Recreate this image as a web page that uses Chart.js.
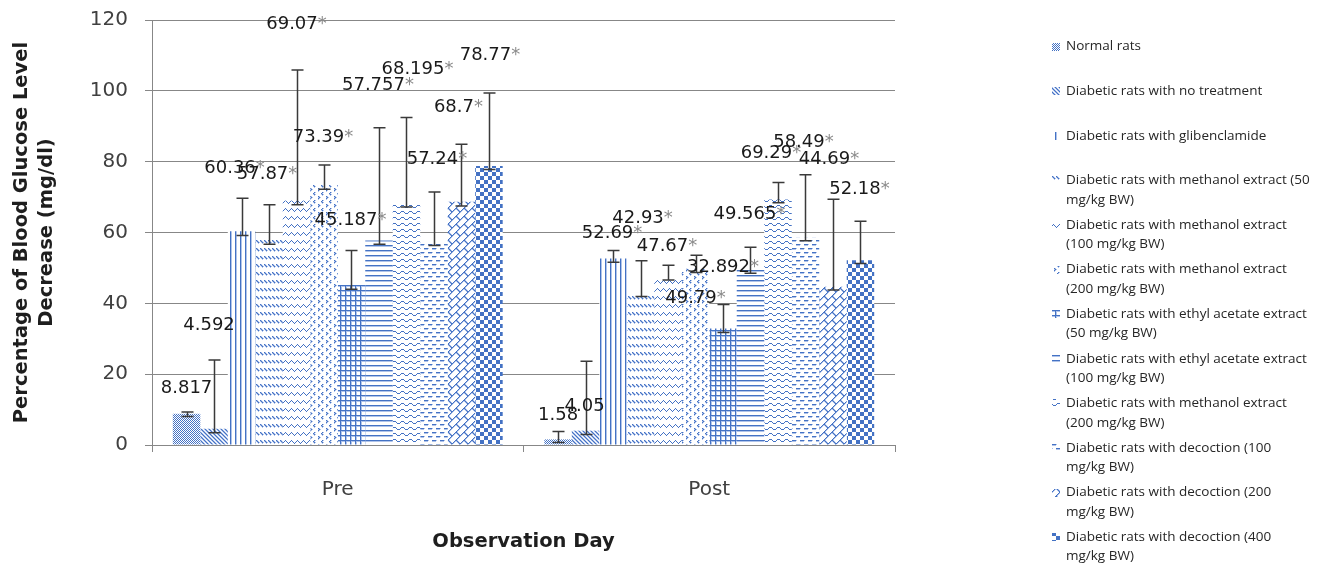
<!DOCTYPE html>
<html>
<head>
<meta charset="utf-8">
<title>Percentage of Blood Glucose Level Decrease</title>
<script src="https://cdn.jsdelivr.net/npm/chart.js@4.4.1/dist/chart.umd.min.js"></script>
<style>
  html, body { margin: 0; padding: 0; background: #ffffff; }
  #wrap { width: 1337px; height: 563px; position: relative; }
</style>
</head>
<body>
<div id="wrap"><canvas id="chart" width="1337" height="563"></canvas></div>
<script>
// ---- data ----
const categories = ['Pre', 'Post'];

const seriesNames = [
  ['Normal rats'],
  ['Diabetic rats with no treatment'],
  ['Diabetic rats with glibenclamide'],
  ['Diabetic rats with methanol extract (50', 'mg/kg BW)'],
  ['Diabetic rats with methanol extract', '(100 mg/kg BW)'],
  ['Diabetic rats with methanol extract', '(200 mg/kg BW)'],
  ['Diabetic rats with ethyl acetate extract', '(50 mg/kg BW)'],
  ['Diabetic rats with ethyl acetate extract', '(100 mg/kg BW)'],
  ['Diabetic rats with methanol extract', '(200 mg/kg BW)'],
  ['Diabetic rats with decoction (100', 'mg/kg BW)'],
  ['Diabetic rats with decoction (200', 'mg/kg BW)'],
  ['Diabetic rats with decoction (400', 'mg/kg BW)']
];

const preValues  = [8.817, 4.592, 60.36, 57.87, 69.07, 73.39, 45.187, 57.757, 68.195, 57.24, 68.7, 78.77];
const postValues = [1.58, 4.05, 52.69, 42.93, 47.67, 49.79, 32.892, 49.565, 69.29, 58.49, 44.69, 52.18];

// error bar extents above / below each mean
const preErrPlus   = [0.5, 19.4, 9.3, 10.0, 36.8, 5.7, 9.7, 31.8, 24.3, 14.2, 16.2, 20.6];
const preErrMinus  = [0.8, 1.1, 1.2, 1.2, 1.2, 1.2, 1.2, 1.1, 1.0, 0.9, 1.2, 1.0];
const postErrPlus  = [2.2, 19.6, 2.2, 9.1, 3.1, 3.8, 6.8, 6.3, 4.8, 17.8, 24.7, 11.0];
const postErrMinus = [0.9, 1.05, 1.1, 1.0, 1.1, 1.1, 1.1, 1.1, 0.9, 0.8, 0.9, 0.9];

// significance marks (*) on the value labels
const preSignificant  = [false, false, true, true, true, true, true, true, true, true, true, true];
const postSignificant = [false, false, true, true, true, true, true, true, true, true, true, true];

const yTicks = [0, 20, 40, 60, 80, 100, 120];

// ---- label placement (pixels: horizontal shift, lift above bar top) ----
const preLabelPlacement = [[0,25],[-5,103],[-7,63],[-2,66],[0,176],[-1,48],[-1,65],[-1,155],[11,134],[3,83],[-3,94],[1,111]];
const postLabelPlacement = [[0,24],[-1,24],[-1,25],[2,75],[-1,30],[0,-30],[0,61],[-1,55],[-7,46],[-2,96],[-4,127],[-1,71]];

// ---- fill patterns ----
const BLUE = [68, 114, 196];
const HALO = [176, 196, 234];
const ctx = document.getElementById('chart').getContext('2d');

// Builds a repeating tile from a list of "ink" pixels; optionally
// widens every stroke with a pale edge on its right/bottom side.
function tile(w, h, draw, halo = true) {
  const ink = new Uint8Array(w * h);
  draw((x, y, ww = 1, hh = 1) => {
    for (let j = 0; j < hh; j++) for (let i = 0; i < ww; i++) ink[((y + j) % h) * w + ((x + i) % w)] = 1;
  });
  const c = document.createElement('canvas');
  c.width = w; c.height = h;
  const g = c.getContext('2d');
  const img = g.createImageData(w, h);
  for (let y = 0; y < h; y++) for (let x = 0; x < w; x++) {
    const k = y * w + x;
    let col = [255, 255, 255];
    if (ink[k]) col = BLUE;
    else if (halo && (ink[y * w + ((x - 1 + w) % w)] || ink[((y - 1 + h) % h) * w + x])) col = HALO;
    img.data.set([col[0], col[1], col[2], 255], k * 4);
  }
  g.putImageData(img, 0, 0);
  return ctx.createPattern(c, 'repeat');
}

const patterns = [
  // fine 50% dots
  tile(2, 2, p => { p(0, 0); p(1, 1); }, false),
  // downward diagonal
  tile(4, 4, p => { for (let i = 0; i < 4; i++) p(i, i); }),
  // vertical lines
  tile(5, 1, p => { p(0, 0); }),
  // dashed downward diagonal
  tile(4, 8, p => { p(0, 0); p(1, 1); p(2, 2); }),
  // zigzag
  tile(6, 8, p => { p(0, 3); p(1, 2); p(2, 1); p(3, 0); p(4, 1); p(5, 2); }, false),
  // dotted chevrons
  tile(8, 8, p => { p(2, 0); p(1, 1); p(2, 2); p(6, 4); p(7, 5); p(6, 6); }),
  // small grid
  tile(5, 5, p => { p(0, 0, 5, 1); p(0, 0, 1, 5); }),
  // horizontal lines
  tile(1, 5, p => { p(0, 0); }),
  // wave
  tile(8, 6, p => { const ys = [2, 1, 1, 1, 2, 3, 3, 3]; ys.forEach((y, x) => p(x, y)); }, false),
  // dashed horizontal
  tile(8, 8, p => { p(0, 0, 4, 1); p(4, 4, 4, 1); }),
  // diagonal brick
  tile(8, 8, p => { for (let i = 0; i < 8; i++) p(i, 7 - i); for (let i = 0; i < 4; i++) p(i, i); }),
  // large checkerboard
  tile(8, 8, p => { p(0, 0, 4, 4); p(4, 4, 4, 4); }, false)
];

// ---- datasets ----
const datasets = seriesNames.map((name, i) => ({
  label: name.join(' '),
  data: [preValues[i], postValues[i]],
  errPlus: [preErrPlus[i], postErrPlus[i]],
  errMinus: [preErrMinus[i], postErrMinus[i]],
  significant: [preSignificant[i], postSignificant[i]],
  placement: [preLabelPlacement[i], postLabelPlacement[i]],
  backgroundColor: patterns[i],
  borderWidth: 0
}));

// ---- plugins ----
const errorBars = {
  id: 'errorBars',
  afterDatasetsDraw(chart) {
    const c = chart.ctx, y = chart.scales.y;
    c.save();
    c.strokeStyle = '#3a3a3a';
    c.lineWidth = 1.5;
    chart.data.datasets.forEach((ds, i) => {
      chart.getDatasetMeta(i).data.forEach((bar, j) => {
        const v = ds.data[j];
        const top = y.getPixelForValue(v + ds.errPlus[j]);
        const bot = y.getPixelForValue(v - ds.errMinus[j]);
        const x = Math.round(bar.x) + 0.5, half = 6;
        c.beginPath();
        c.moveTo(x, top); c.lineTo(x, bot);
        c.moveTo(x - half, top); c.lineTo(x + half, top);
        c.moveTo(x - half, bot); c.lineTo(x + half, bot);
        c.stroke();
      });
    });
    c.restore();
  }
};

const valueLabels = {
  id: 'valueLabels',
  afterDatasetsDraw(chart) {
    const c = chart.ctx, y = chart.scales.y;
    c.save();
    c.font = '18px "DejaVu Sans", sans-serif';
    c.textBaseline = 'middle';
    c.textAlign = 'left';
    chart.data.datasets.forEach((ds, i) => {
      chart.getDatasetMeta(i).data.forEach((bar, j) => {
        const v = ds.data[j];
        const num = String(v);
        const star = ds.significant[j] ? '*' : '';
        const wNum = c.measureText(num).width;
        const wStar = star ? c.measureText(star).width : 0;
        const [dx, lift] = ds.placement[j];
        const cx = bar.x + dx;
        const cy = y.getPixelForValue(v) - lift;
        const x0 = cx - (wNum + wStar) / 2;
        c.fillStyle = '#1a1a1a';
        c.fillText(num, x0, cy);
        if (star) {
          c.fillStyle = '#8a8a8a';
          c.fillText(star, x0 + wNum, cy);
        }
      });
    });
    c.restore();
  }
};

const sideLegend = {
  id: 'sideLegend',
  afterDraw(chart) {
    const c = chart.ctx;
    const x0 = 1052, textX = 1066, firstY = 46.5, step = 44.6, lineH = 19.5;
    c.save();
    c.font = '13.5px "Open Sans", Lato, sans-serif';
    c.textBaseline = 'middle';
    c.textAlign = 'left';
    chart.data.datasets.forEach((ds, i) => {
      const yy = firstY + i * step;
      c.fillStyle = ds.backgroundColor;
      c.fillRect(x0, Math.round(yy - 4), 8, 8);
      c.fillStyle = '#262626';
      seriesNames[i].forEach((line, k) => c.fillText(line, textX, yy + k * lineH));
    });
    c.restore();
  }
};

// ---- chart ----
const GRID = '#878787';
new Chart(ctx, {
  type: 'bar',
  data: { labels: categories, datasets },
  options: {
    responsive: false,
    animation: false,
    devicePixelRatio: 1,
    layout: { padding: { left: 0, top: 20, right: 442, bottom: 0 } },
    datasets: { bar: { barPercentage: 1, categoryPercentage: 0.888 } },
    plugins: { legend: { display: false }, tooltip: { enabled: false } },
    scales: {
      x: {
        grid: { offset: true, drawOnChartArea: false, drawTicks: true, tickLength: 7, color: GRID },
        border: { color: GRID, width: 1 },
        ticks: { font: { family: 'DejaVu Sans', size: 20 }, color: '#404040', padding: 26 },
        title: {
          display: true, text: 'Observation Day', color: '#1e1e1e',
          font: { family: 'DejaVu Sans', size: 19.5, weight: 'bold', lineHeight: 1.2 },
          padding: { top: 0, bottom: 9 }
        },
        afterFit(scale) { scale.height = 118; scale.paddingLeft = 0; scale.paddingRight = 0; }
      },
      y: {
        min: 0, max: 120,
        afterBuildTicks(scale) { scale.ticks = yTicks.map(v => ({ value: v })); },
        grid: { color: GRID, tickLength: 7, drawTicks: true },
        border: { color: GRID, width: 1 },
        ticks: { font: { family: 'DejaVu Sans', size: 20 }, color: '#404040', padding: 17 },
        title: {
          display: true, text: ['Percentage of Blood Glucose Level', 'Decrease (mg/dl)'], color: '#1e1e1e',
          font: { family: 'DejaVu Sans', size: 19.5, weight: 'bold', lineHeight: 1.28 },
          padding: { top: 9, bottom: 0 }
        },
        afterFit(scale) { scale.width = 152; scale.paddingTop = 0; scale.paddingBottom = 0; }
      }
    }
  },
  plugins: [errorBars, valueLabels, sideLegend]
});
</script>
</body>
</html>
